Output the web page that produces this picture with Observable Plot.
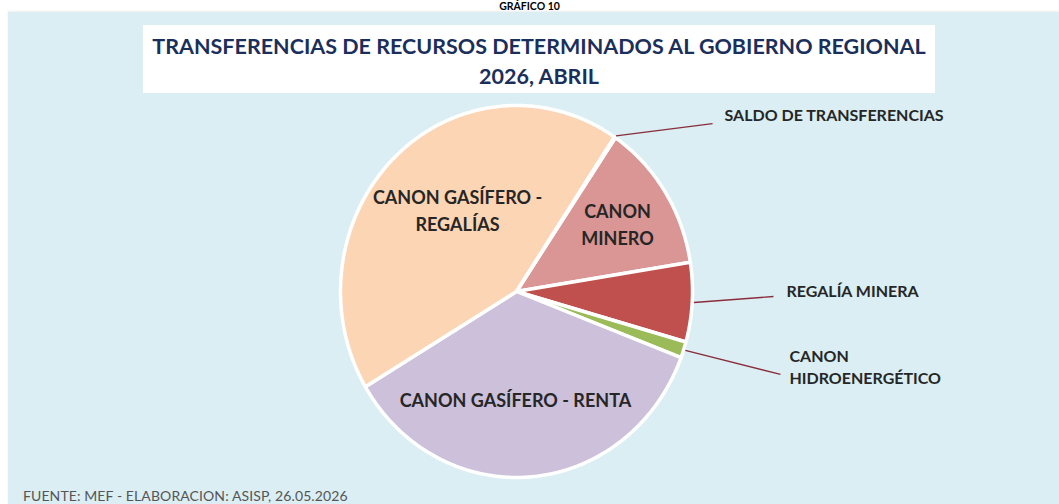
<!DOCTYPE html>
<html>
<head>
<meta charset="utf-8">
<script src="https://cdn.jsdelivr.net/npm/d3@7"></script>
<script src="https://cdn.jsdelivr.net/npm/@observablehq/plot@0.6"></script>
<style>
  html, body { margin: 0; padding: 0; background: #ffffff; }
  body { width: 1059px; height: 504px; position: relative; overflow: hidden; font-family: Lato, "Open Sans", sans-serif; }
  #top { position: absolute; left: 0; width: 1059px; top: 0px; text-align: center; font-weight: 700; font-size: 10.5px; line-height: 13px; color: #000; z-index: 2; }
  #panel { position: absolute; left: 8px; top: 12px; right: 0; bottom: 0; background: #DAEEF3; box-shadow: 0 -1px 2px rgba(0,0,0,0.08); }
  #titlebox { position: absolute; left: 143px; top: 25px; width: 792px; height: 68px; background: #ffffff; }
  #title { position: absolute; left: 143px; top: 31px; width: 792px; text-align: center; font-weight: 700; font-size: 21.5px; line-height: 30px; color: #1B2F5B; }
  #caption { position: absolute; left: 23px; top: 487px; font-size: 14px; color: #555; letter-spacing: 0.1px; }
  #chart { position: absolute; left: 0; top: 0; }
</style>
</head>
<body>
<div id="panel"></div>
<div id="top">GRÁFICO 10</div>
<div id="titlebox"></div>
<div id="title">TRANSFERENCIAS DE RECURSOS DETERMINADOS AL GOBIERNO REGIONAL<br>2026, ABRIL</div>
<div id="caption">FUENTE: MEF - ELABORACION: ASISP, 26.05.2026</div>
<div id="chart"></div>
<script>
// ---- data ----
const names = ["CANON MINERO", "REGALÍA MINERA", "CANON HIDROENERGÉTICO", "CANON GASÍFERO - RENTA", "CANON GASÍFERO - REGALÍAS", "SALDO DE TRANSFERENCIAS"];
const shares = [13.0, 6.9, 1.4, 35.7, 43.0, 0.1];
const colors = ["#DA9694", "#C0504D", "#9BBB59", "#CCC0DA", "#FCD5B4", "#4BACC6"];

// ---- label text (as shown on the chart) ----
const labelText = ["CANON\nMINERO", "REGALÍA MINERA", "CANON\nHIDROENERGÉTICO", "CANON GASÍFERO - RENTA", "CANON GASÍFERO -\nREGALÍAS", "SALDO DE TRANSFERENCIAS"];

// ---- layout (unit-circle coordinates) ----
const pie = {cx: 516, cy: 291, rx: 176, ry: 186, startDeg: 34.2};
const W = 1059, H = 504;
const insideLabels = [
  {i: 0, ux: 0.574, uy: 0.371},
  {i: 3, ux: -0.006, uy: -0.575},
  {i: 4, ux: -0.335, uy: 0.4435}
];
const outsideLabels = [
  {i: 5, ux: 1.182, uy: 0.946, lx: 1.114, ly: 0.903},
  {i: 1, ux: 1.534, uy: 0.0, lx: 1.46, ly: -0.027},
  {i: 2, ux: 1.551, uy: -0.398, lx: 1.50, ly: -0.446}
];

// ---- build slices ----
const total = d3.sum(shares);
let acc = pie.startDeg;
const slices = names.map((n, i) => {
  const a0 = acc;
  const a1 = acc + shares[i] / total * 360;
  acc = a1;
  return {name: n, a0, a1, mid: (a0 + a1) / 2};
});
const pts = [];
for (const s of slices) {
  pts.push({name: s.name, x: 0, y: 0});
  const steps = Math.max(2, Math.ceil((s.a1 - s.a0) / 0.5));
  for (let k = 0; k <= steps; k++) {
    const a = (s.a0 + (s.a1 - s.a0) * k / steps) * Math.PI / 180;
    pts.push({name: s.name, x: Math.sin(a), y: Math.cos(a)});
  }
  pts.push({name: s.name, x: 0, y: 0});
}
const inside = insideLabels.map(d => ({...d, text: labelText[d.i]}));
const outside = outsideLabels.map(d => {
  const a = slices[d.i].mid * Math.PI / 180;
  return {...d, text: labelText[d.i], sx: 1.01 * Math.sin(a), sy: 1.01 * Math.cos(a)};
});

const chart = Plot.plot({
  width: W, height: H, margin: 0,
  x: {domain: [-pie.cx / pie.rx, (W - pie.cx) / pie.rx], axis: null},
  y: {domain: [(pie.cy - H) / pie.ry, pie.cy / pie.ry], axis: null},
  color: {domain: names, range: colors},
  style: {background: "transparent", overflow: "visible"},
  marks: [
    Plot.line(pts, {x: "x", y: "y", z: "name", fill: "name", stroke: "#ffffff", strokeWidth: 3.5, strokeLinejoin: "round", curve: "linear"}),
    Plot.link(outside, {x1: "sx", y1: "sy", x2: "lx", y2: "ly", stroke: "#8A2C3C", strokeWidth: 1.3}),
    Plot.text(inside, {x: "ux", y: "uy", text: "text", fontFamily: "Lato, sans-serif", fontWeight: "bold", fontSize: 18, fill: "#262626", lineHeight: 1.5, textAnchor: "middle"}),
    Plot.text(outside.filter(d => d.i !== 2), {x: "ux", y: "uy", text: "text", fontFamily: "Lato, sans-serif", fontWeight: "bold", fontSize: 16, fill: "#262626", textAnchor: "start"}),
    Plot.text(outside.filter(d => d.i === 2), {x: "ux", y: "uy", text: "text", fontFamily: "Lato, sans-serif", fontWeight: "bold", fontSize: 16, fill: "#262626", lineHeight: 1.375, textAnchor: "start"})
  ]
});
document.getElementById("chart").appendChild(chart);
</script>
</body>
</html>
